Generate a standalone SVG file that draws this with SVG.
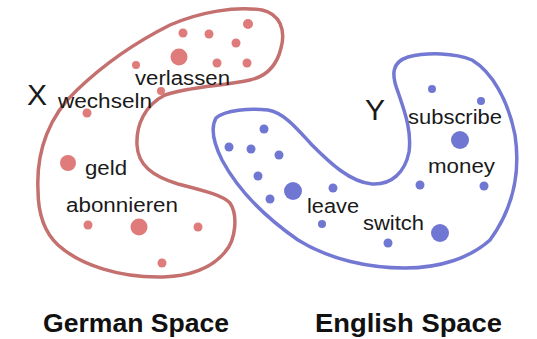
<svg xmlns="http://www.w3.org/2000/svg" width="537" height="339" viewBox="0 0 537 339">
  <style>
    .space { fill: none; stroke-width: 3.5; stroke-linejoin: round; }
    .de .space { stroke: #c4706f; }
    .en .space { stroke: #7378d2; }
    .de circle { fill: #e07b7b; }
    .en circle { fill: #7077d3; }
    .word { font-family: "Liberation Sans", Arial, sans-serif; font-size: 20px; fill: #1a1a1a; }
    .var { font-family: "Liberation Sans", Arial, sans-serif; font-size: 30px; fill: #1a1a1a; }
    .title { font-family: "Liberation Sans", Arial, sans-serif; font-size: 25px; font-weight: bold; fill: #111; }
  </style>
  <rect width="537" height="339" fill="#ffffff"/>

  <!-- German embedding space -->
  <g id="german-space" class="de">
    <path class="space" d="M 38,190 C 36,150 50,115 77,90 C 100,68 130,45 170,25 C 200,12 235,6 262,10 C 280,14 286,30 281,48 C 277,65 268,76 250,80 C 225,86 190,86 165,95 C 145,105 136,125 137,145 C 138,165 152,176 178,184 C 205,191 222,195 230,203 C 238,215 236,240 225,252 C 212,268 190,276 163,277 C 120,278 80,265 58,245 C 42,230 38,210 38,190 Z"/>
    <circle cx="248" cy="24" r="5"/>
    <circle cx="183" cy="33" r="4.5"/>
    <circle cx="209" cy="34" r="4.5"/>
    <circle cx="236" cy="43" r="4.5"/>
    <circle cx="179" cy="57" r="8.5"/>
    <circle cx="136" cy="65" r="4"/>
    <circle cx="217" cy="63" r="4.5"/>
    <circle cx="247" cy="63" r="4.5"/>
    <circle cx="161" cy="91" r="4"/>
    <circle cx="87" cy="113" r="4.5"/>
    <circle cx="68" cy="163" r="8"/>
    <circle cx="88" cy="225" r="4.5"/>
    <circle cx="139" cy="227" r="8.5"/>
    <circle cx="198" cy="227" r="4.5"/>
    <circle cx="162" cy="263" r="4.5"/>
    <text class="var" x="27" y="105">X</text>
    <text class="word" x="58" y="108" textLength="94" lengthAdjust="spacingAndGlyphs">wechseln</text>
    <text class="word" x="135" y="85" textLength="95" lengthAdjust="spacingAndGlyphs">verlassen</text>
    <text class="word" x="85" y="175" textLength="42" lengthAdjust="spacingAndGlyphs">geld</text>
    <text class="word" x="66" y="212" textLength="112" lengthAdjust="spacingAndGlyphs">abonnieren</text>
  </g>

  <!-- English embedding space -->
  <g id="english-space" class="en">
    <path class="space" d="M 216,118 C 225,110 250,108 268,110 C 285,113 298,130 312,145 C 330,163 350,182 372,184 C 392,185 405,172 409,152 C 412,130 404,110 398,92 C 391,74 392,62 408,57 C 428,52 455,53 472,60 C 492,72 508,100 515,135 C 521,175 512,210 490,240 C 470,258 440,268 405,268 C 370,268 330,260 298,240 C 262,215 238,190 222,160 C 213,142 211,127 216,118 Z"/>
    <circle cx="432" cy="89" r="4"/>
    <circle cx="481" cy="101" r="4"/>
    <circle cx="460" cy="140" r="9"/>
    <circle cx="420" cy="185" r="4.5"/>
    <circle cx="484" cy="186" r="4.5"/>
    <circle cx="264" cy="129" r="4.5"/>
    <circle cx="229" cy="147" r="4.5"/>
    <circle cx="251" cy="149" r="4.5"/>
    <circle cx="279" cy="155" r="4.5"/>
    <circle cx="258" cy="176" r="4.5"/>
    <circle cx="293" cy="191" r="9"/>
    <circle cx="333" cy="188" r="4.5"/>
    <circle cx="270" cy="199" r="4.5"/>
    <circle cx="322" cy="224" r="4"/>
    <circle cx="388" cy="243" r="4.5"/>
    <circle cx="440" cy="233" r="9"/>
    <text class="var" x="365" y="120">Y</text>
    <text class="word" x="408" y="124" textLength="94" lengthAdjust="spacingAndGlyphs">subscribe</text>
    <text class="word" x="428" y="173" textLength="67" lengthAdjust="spacingAndGlyphs">money</text>
    <text class="word" x="307" y="213" textLength="52" lengthAdjust="spacingAndGlyphs">leave</text>
    <text class="word" x="363" y="230" textLength="61" lengthAdjust="spacingAndGlyphs">switch</text>
  </g>

  <!-- Captions -->
  <g id="captions">
    <text class="title" x="43" y="332" textLength="186" lengthAdjust="spacingAndGlyphs">German Space</text>
    <text class="title" x="315" y="332" textLength="187" lengthAdjust="spacingAndGlyphs">English Space</text>
  </g>
</svg>
